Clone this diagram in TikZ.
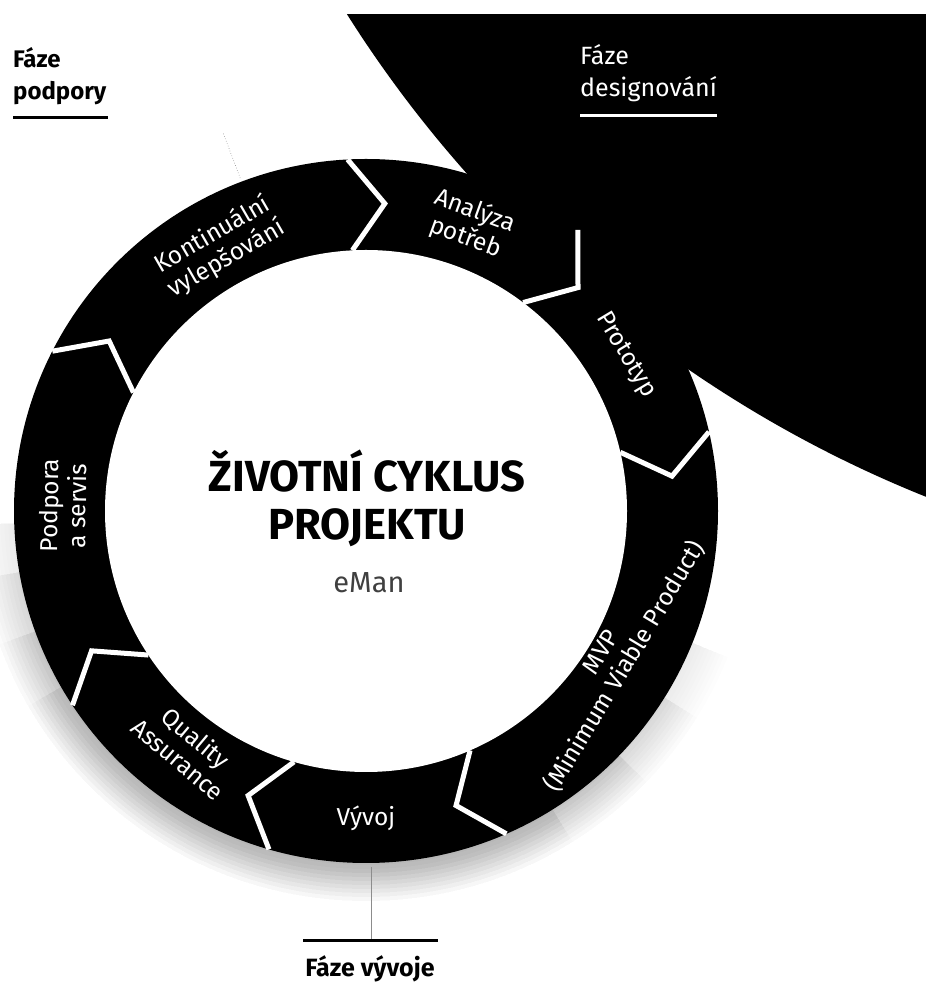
\documentclass[tikz,border=0pt]{standalone}
\usepackage{fontspec}
\setmainfont{Fira Sans}
\usetikzlibrary{calc}
\begin{document}
\begin{tikzpicture}[x=1pt,y=1pt,
  seglabel/.style={text=white,font=\fontsize{24.5}{28}\selectfont,align=center,inner sep=0pt},
  sepline/.style={draw=white,line width=5pt,line join=miter},
  phasehead/.style={font=\fontsize{24}{32}\selectfont\bfseries,align=left,inner sep=0pt,anchor=north west},
  phaserule/.style={line width=3pt},
  leader/.style={draw=black!45,line width=0.6pt}]
\useasboundingbox (0,0) rectangle (926,983);
\coordinate (C) at (366,472);
% large design-phase disc
\begin{scope}
  \clip (0,0) rectangle (926,968);
  \fill[black] (1380,1620) circle (1221);
\end{scope}
% soft halo, fading at both ends
\foreach \s/\e in {-178/-22,-170/-32,-160/-44,-150/-58}{
  \begin{scope}
    \clip (C) -- ($(C)+(\s:420)$) arc[start angle=\s,end angle=\e,radius=420] -- cycle;
    \foreach \r in {354,358,...,390} \fill[black,opacity=0.006] (C) circle (\r);
  \end{scope}
}
% ring
\fill[black] (C) circle (352);
\foreach \a in {93,53,13,-66.5,-106,-146.5,153}
  \draw[sepline] ($(C)+(\a:352)$) -- ($(C)+(\a-6.5:308)$) -- ($(C)+(\a:261)$);
\fill[white] (C) circle (261);
% segment labels
\node[seglabel,rotate=30] (kont) at ($(C)+(119:302)$) {Kontinuální\\vylepšování};
\node[seglabel,rotate=-20] (anal) at ($(C)+(70:305)$) {Analýza\\potřeb};
\node[seglabel,rotate=-59] (prot) at ($(C)+(31:303)$) {Prototyp};
\node[seglabel,rotate=59] (mvp) at ($(C)+(-31:289)$) {MVP\\(Minimum Viable Product)};
\node[seglabel] (vyv) at ($(C)+(-90:307)$) {Vývoj};
\node[seglabel,rotate=-40] (qa) at ($(C)+(-127:297)$) {Quality\\Assurance};
\node[seglabel,rotate=89] (podp) at ($(C)+(179:303)$) {Podpora\\a servis};
% centre title
\node[font=\fontsize{43.5}{50}\selectfont\bfseries,anchor=base,inner sep=0pt] (t1) at (367,491) {ŽIVOTNÍ CYKLUS};
\node[font=\fontsize{43.5}{50}\selectfont\bfseries,anchor=base,inner sep=0pt] (t2) at (367,443) {PROJEKTU};
\node[font=\fontsize{29}{34}\selectfont,text=black!75,anchor=base,inner sep=0pt] (t3) at (369,390) {eMan};
% phase headings
\node[phasehead] (fpod) at (13,936) {Fáze\\podpory};
\draw[phaserule] (13,865) -- (108,865);
\node[phasehead,font=\fontsize{25}{32}\selectfont,text=white] (fdes) at (580,939) {Fáze\\designování};
\draw[phaserule,white] (580,867) -- (717,867);
\node[font=\fontsize{25}{28}\selectfont\bfseries,anchor=base,inner sep=0pt] (fvyv) at (370,6) {Fáze vývoje};
\draw[phaserule] (303,42) -- (438,42);
% leader lines
\coordinate (lt1) at ($(C)+(110.7:356)$);
\coordinate (lt2) at ($(C)+(110.7:405)$);
\draw[leader,dotted] (lt1) -- (lt2);
\coordinate (lb1) at (371,116);
\coordinate (lb2) at (371,44);
\draw[leader] (lb1) -- (lb2);
\end{tikzpicture}
\end{document}
